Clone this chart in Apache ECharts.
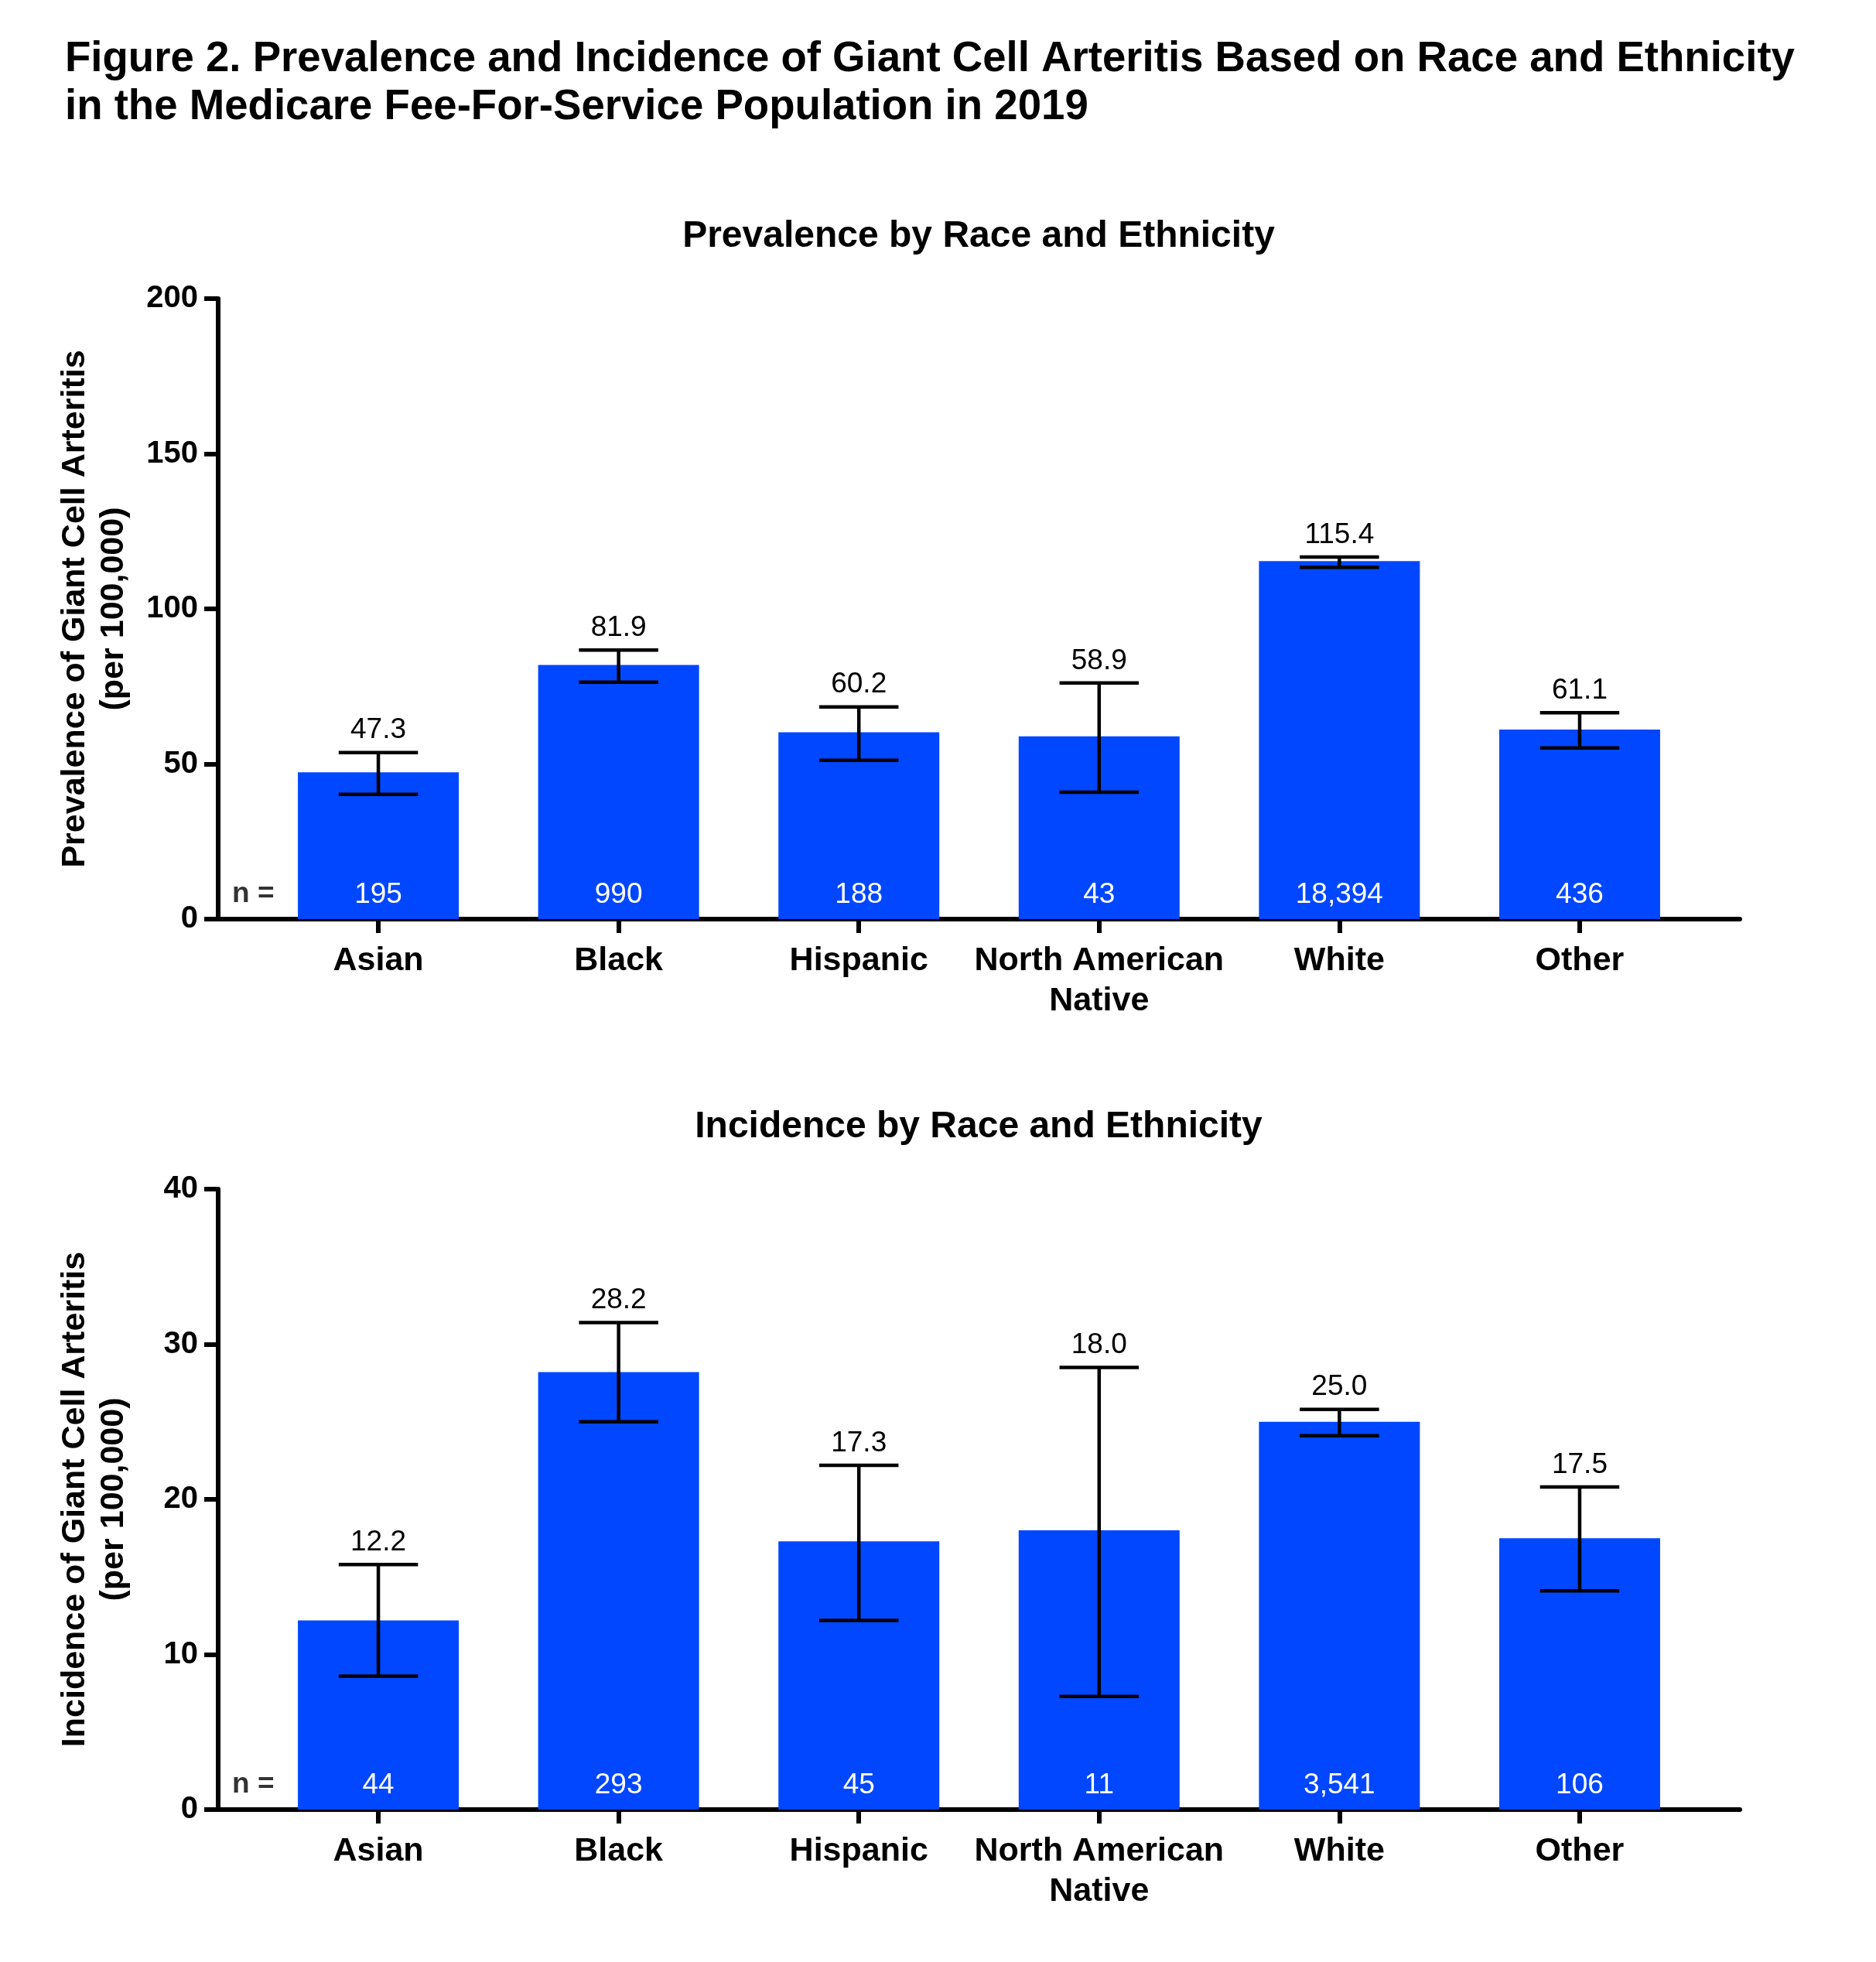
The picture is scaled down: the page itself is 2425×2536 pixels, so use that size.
<!DOCTYPE html>
<html>
<head>
<meta charset="utf-8">
<script src="https://cdn.jsdelivr.net/npm/echarts@6/dist/echarts.min.js"></script>
<style>
html,body{margin:0;padding:0;background:#fff;}
#chart{width:2425px;height:2536px;}
</style>
</head>
<body>
<div id="chart"></div>
<script>
// ---------- data ----------
const categories = ['Asian', 'Black', 'Hispanic', 'North American\nNative', 'White', 'Other'];

const prevalence     = [47.3, 81.9, 60.2, 58.9, 115.4, 61.1];
const prevalenceLow  = [40.2, 76.4, 51.2, 40.9, 113.4, 55.2];
const prevalenceHigh = [53.7, 86.7, 68.4, 76.1, 116.7, 66.5];
const prevalenceN    = ['195', '990', '188', '43', '18,394', '436'];

const incidence      = [12.2, 28.2, 17.3, 18.0, 25.0, 17.5];
const incidenceLow   = [8.6, 25.0, 12.2, 7.3, 24.1, 14.1];
const incidenceHigh  = [15.8, 31.4, 22.2, 28.5, 25.8, 20.8];
const incidenceN     = ['44', '293', '45', '11', '3,541', '106'];

const prevalenceAxis = {min: 0, max: 200, interval: 50};
const incidenceAxis  = {min: 0, max: 40, interval: 10};

const mainTitle = 'Figure 2. Prevalence and Incidence of Giant Cell Arteritis Based on Race and Ethnicity\nin the Medicare Fee-For-Service Population in 2019';
const panelTitles = ['Prevalence by Race and Ethnicity', 'Incidence by Race and Ethnicity'];
const yNames = ['Prevalence of Giant Cell Arteritis\n(per 100,000)', 'Incidence of Giant Cell Arteritis\n(per 100,000)'];
const nPrefix = 'n =';

// ---------- styling ----------
const FONT = '"Liberation Sans", Arial, Helvetica, sans-serif';
const BLUE = '#0047FF';
const AXIS_W = 6;
const X_MIN = -2 / 3;
const X_MAX = categories.length - 1 + 2 / 3;
const catIdx = categories.map((_, i) => i);

const grids = [
  {left: 282, right: 176, top: 386, height: 802},
  {left: 282, right: 176, top: 1537, height: 802}
];

function xAxisCfg(gi) {
  return {
    type: 'value', gridIndex: gi, min: X_MIN, max: X_MAX,
    axisLine: {show: true, onZero: false, lineStyle: {color: '#000', width: AXIS_W}},
    axisTick: {show: true, customValues: catIdx, length: 18, lineStyle: {color: '#000', width: AXIS_W}},
    axisLabel: {
      show: true, customValues: catIdx, margin: 28,
      formatter: v => categories[Math.round(v)],
      color: '#000', fontFamily: FONT, fontWeight: 'bold', fontSize: 43, lineHeight: 52
    },
    splitLine: {show: false}
  };
}

function yAxisCfg(gi, ax, name) {
  return {
    type: 'value', gridIndex: gi, min: ax.min, max: ax.max, interval: ax.interval,
    name: name, nameLocation: 'middle', nameGap: 110,
    nameTextStyle: {color: '#000', fontFamily: FONT, fontWeight: 'bold', fontSize: 43, lineHeight: 50},
    axisLine: {show: true, onZero: false, lineStyle: {color: '#000', width: AXIS_W}},
    axisTick: {show: true, length: 18, lineStyle: {color: '#000', width: AXIS_W}},
    axisLabel: {show: true, margin: 26, color: '#000', fontFamily: FONT, fontWeight: 'bold', fontSize: 40},
    splitLine: {show: false}
  };
}

function barSeries(gi, vals, ns) {
  return {
    type: 'bar', xAxisIndex: gi, yAxisIndex: gi,
    data: vals.map((v, i) => [i, v]),
    barWidth: 208,
    itemStyle: {color: BLUE},
    label: {
      show: true, position: 'insideBottom', distance: 13,
      formatter: p => ns[p.dataIndex],
      color: '#fff', fontFamily: FONT, fontSize: 37
    },
    silent: true, z: 2
  };
}

function errorSeries(gi, vals, lows, highs) {
  return {
    type: 'custom', xAxisIndex: gi, yAxisIndex: gi,
    data: vals.map((v, i) => [i, lows[i], highs[i], v]),
    encode: {x: 0, y: [1, 2]},
    renderItem: function (params, api) {
      const x = api.value(0);
      const lo = api.coord([x, api.value(1)]);
      const hi = api.coord([x, api.value(2)]);
      const half = api.size([1, 0])[0] * 0.165;
      const st = {stroke: '#000', lineWidth: 4.5, lineCap: 'butt'};
      return {
        type: 'group',
        children: [
          {type: 'line', shape: {x1: lo[0], y1: lo[1], x2: hi[0], y2: hi[1]}, style: st},
          {type: 'line', shape: {x1: hi[0] - half, y1: hi[1], x2: hi[0] + half, y2: hi[1]}, style: st},
          {type: 'line', shape: {x1: lo[0] - half, y1: lo[1], x2: lo[0] + half, y2: lo[1]}, style: st},
          {type: 'text', x: hi[0], y: hi[1] - 10,
           style: {text: api.value(3).toFixed(1), align: 'center', verticalAlign: 'bottom',
                   fontFamily: FONT, fontSize: 37, fill: '#000'}}
        ]
      };
    },
    silent: true, z: 5
  };
}

function nLabelSeries(gi) {
  return {
    type: 'scatter', xAxisIndex: gi, yAxisIndex: gi,
    data: [[X_MIN + 0.058, 0]],
    symbolSize: 0, silent: true, clip: false,
    label: {
      show: true, position: 'right', distance: 0, offset: [0, -32],
      formatter: nPrefix, color: '#000', fontFamily: FONT, fontWeight: 'bold', fontSize: 37
    },
    z: 6
  };
}

const chart = echarts.init(document.getElementById('chart'), null, {renderer: 'canvas'});
chart.setOption({
  animation: false,
  backgroundColor: '#fff',
  title: [
    {text: mainTitle, left: 84, top: 46, padding: 0,
     textStyle: {color: '#000', fontFamily: FONT, fontWeight: 'bold', fontSize: 54.6, lineHeight: 62}},
    {text: panelTitles[0], left: 1265, top: 282, padding: 0, textAlign: 'center',
     textStyle: {color: '#000', fontFamily: FONT, fontWeight: 'bold', fontSize: 48}},
    {text: panelTitles[1], left: 1265, top: 1433, padding: 0, textAlign: 'center',
     textStyle: {color: '#000', fontFamily: FONT, fontWeight: 'bold', fontSize: 48}}
  ],
  grid: grids,
  xAxis: [xAxisCfg(0), xAxisCfg(1)],
  yAxis: [yAxisCfg(0, prevalenceAxis, yNames[0]), yAxisCfg(1, incidenceAxis, yNames[1])],
  series: [
    barSeries(0, prevalence, prevalenceN),
    errorSeries(0, prevalence, prevalenceLow, prevalenceHigh),
    nLabelSeries(0),
    barSeries(1, incidence, incidenceN),
    errorSeries(1, incidence, incidenceLow, incidenceHigh),
    nLabelSeries(1)
  ]
});
</script>
</body>
</html>
